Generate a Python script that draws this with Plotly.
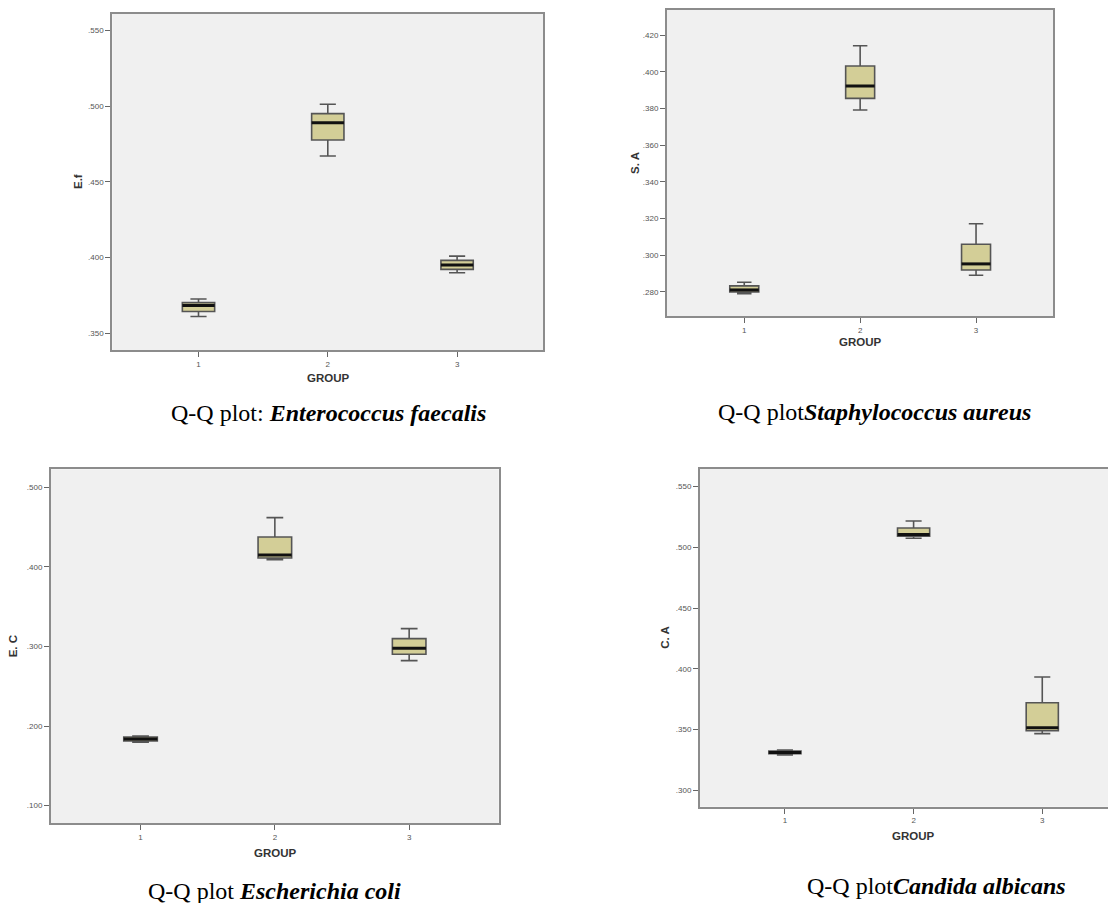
import plotly.graph_objects as go

# The page body has an 8px margin, so figure coordinates are page coordinates minus 8.
OFF = 8
W, H = 1116 - OFF, 903 - OFF

groups = [1, 2, 3]
group_labels = ["1", "2", "3"]

# Enterococcus faecalis (E.f)
ef_lower = [0.3610, 0.4671, 0.3899]
ef_q1 = [0.3643, 0.4777, 0.3921]
ef_median = [0.3683, 0.4891, 0.3950]
ef_q3 = [0.3701, 0.4951, 0.3981]
ef_upper = [0.3725, 0.5013, 0.4009]
ef_ticks = [0.35, 0.40, 0.45, 0.50, 0.55]
ef_ticktext = [".350", ".400", ".450", ".500", ".550"]

# Staphylococcus aureus (S. A)
sa_lower = [0.2791, 0.3792, 0.2891]
sa_q1 = [0.2800, 0.3855, 0.2920]
sa_median = [0.2811, 0.3923, 0.2953]
sa_q3 = [0.2833, 0.4032, 0.3060]
sa_upper = [0.2853, 0.4142, 0.3172]
sa_ticks = [0.28, 0.30, 0.32, 0.34, 0.36, 0.38, 0.40, 0.42]
sa_ticktext = [".280", ".300", ".320", ".340", ".360", ".380", ".400", ".420"]

# Escherichia coli (E. C)
ec_lower = [0.1796, 0.4091, 0.2822]
ec_q1 = [0.1813, 0.4112, 0.2902]
ec_median = [0.1838, 0.4150, 0.2977]
ec_q3 = [0.1863, 0.4376, 0.3098]
ec_upper = [0.1875, 0.4619, 0.3224]
ec_ticks = [0.1, 0.2, 0.3, 0.4, 0.5]
ec_ticktext = [".100", ".200", ".300", ".400", ".500"]

# Candida albicans (C. A)
ca_lower = [0.3291, 0.5075, 0.3467]
ca_q1 = [0.3302, 0.5091, 0.3491]
ca_median = [0.3313, 0.5105, 0.3516]
ca_q3 = [0.3324, 0.5160, 0.3722]
ca_upper = [0.3332, 0.5217, 0.3933]
ca_ticks = [0.30, 0.35, 0.40, 0.45, 0.50, 0.55]
ca_ticktext = [".300", ".350", ".400", ".450", ".500", ".550"]

y_titles = ["E.f", "S. A", "E. C", "C. A"]
captions = [
    "Q-Q plot: <b><i>Enterococcus faecalis</i></b>",
    "Q-Q plot<b><i>Staphylococcus aureus</i></b>",
    "Q-Q plot <b><i>Escherichia coli</i></b>",
    "Q-Q plot<b><i>Candida albicans</i></b>",
]

# positions below are page pixels (reference picture coordinates)
panels = [
    dict(stats=(ef_lower, ef_q1, ef_median, ef_q3, ef_upper), ticks=ef_ticks, ticktext=ef_ticktext,
         yrange=[0.3388, 0.561], xrange=[1/3, 11/3], px=(112.3, 543.3), py=(14, 350), right=True,
         ytitle_x=78, xtitle=(328, 378), cap=(328, 413)),
    dict(stats=(sa_lower, sa_q1, sa_median, sa_q3, sa_upper), ticks=sa_ticks, ticktext=sa_ticktext,
         yrange=[0.2669, 0.4337], xrange=[1/3, 11/3], px=(667, 1053.3), py=(10, 316), right=True,
         ytitle_x=635, xtitle=(860, 342), cap=(874, 412)),
    dict(stats=(ec_lower, ec_q1, ec_median, ec_q3, ec_upper), ticks=ec_ticks, ticktext=ec_ticktext,
         yrange=[0.0778, 0.5226], xrange=[1/3, 11/3], px=(51, 498.7), py=(469.3, 823.3), right=True,
         ytitle_x=13, xtitle=(275, 853), cap=(274, 891)),
    dict(stats=(ca_lower, ca_q1, ca_median, ca_q3, ca_upper), ticks=ca_ticks, ticktext=ca_ticktext,
         yrange=[0.2866, 0.5645], xrange=[0.34, 3.573], px=(700, 1116), py=(469, 806.7), right=False,
         ytitle_x=665, xtitle=(913, 836), cap=(936, 886)),
]

BOX_W = 0.25
FILL = "#D3CE97"
EDGE = "#555555"
BORDER = "#8c8c8c"
TICKFONT = dict(family="Liberation Sans, Arial", size=8, color="#555555")
TITLEFONT = dict(family="Liberation Sans, Arial", size=11.5, color="#333333")


def fx(px):
    return (px - OFF) / W


def fy(py):
    return 1 - (py - OFF) / H


fig = go.Figure()
layout = dict(
    width=W, height=H, margin=dict(l=0, r=0, t=0, b=0),
    paper_bgcolor="white", plot_bgcolor="#F0F0F0", showlegend=False,
)
annotations = []

for i, p in enumerate(panels):
    n = i + 1
    xa = "x" if n == 1 else f"x{n}"
    ya = "y" if n == 1 else f"y{n}"
    lower, q1, med, q3, upper = p["stats"]
    fig.add_trace(go.Box(
        x=groups, q1=q1, median=med, q3=q3, lowerfence=lower, upperfence=upper,
        width=BOX_W, whiskerwidth=0.5, fillcolor=FILL,
        line=dict(color=EDGE, width=1.6), boxpoints=False,
        xaxis=xa, yaxis=ya, hoverinfo="skip",
    ))
    # thick black median lines
    mx, my = [], []
    for g, m in zip(groups, med):
        mx += [g - BOX_W / 2, g + BOX_W / 2, None]
        my += [m, m, None]
    fig.add_trace(go.Scatter(x=mx, y=my, mode="lines", line=dict(color="#111111", width=3),
                             xaxis=xa, yaxis=ya, hoverinfo="skip"))

    x0, x1 = p["px"]
    y0, y1 = p["py"]
    xkey = "xaxis" if n == 1 else f"xaxis{n}"
    ykey = "yaxis" if n == 1 else f"yaxis{n}"
    layout[xkey] = dict(
        domain=[max(0, fx(x0)), min(1, fx(x1))], anchor=ya, range=p["xrange"],
        tickvals=groups, ticktext=group_labels, ticks="outside", ticklen=5,
        tickcolor="#666666", tickfont=TICKFONT, showgrid=False, zeroline=False,
        showline=True, linecolor=BORDER, linewidth=2, mirror=True,
    )
    layout[ykey] = dict(
        domain=[fy(y1), fy(y0)], anchor=xa, range=p["yrange"],
        tickvals=p["ticks"], ticktext=p["ticktext"], ticks="outside", ticklen=5,
        tickcolor="#666666", tickfont=TICKFONT, showgrid=False, zeroline=False,
        showline=True, linecolor=BORDER, linewidth=2, mirror=p["right"],
    )
    annotations.append(dict(
        text=f"<b>{y_titles[i]}</b>", xref="paper", yref="paper",
        x=fx(p["ytitle_x"]), y=fy((y0 + y1) / 2), textangle=-90,
        showarrow=False, font=TITLEFONT, xanchor="center", yanchor="middle",
    ))
    tx, ty = p["xtitle"]
    annotations.append(dict(
        text="<b>GROUP</b>", xref="paper", yref="paper", x=fx(tx), y=fy(ty),
        showarrow=False, font=TITLEFONT, xanchor="center", yanchor="middle",
    ))
    cx, cy = p["cap"]
    annotations.append(dict(
        text=captions[i], xref="paper", yref="paper", x=fx(cx), y=fy(cy),
        showarrow=False, font=dict(family="Liberation Serif, Times New Roman", size=24, color="black"),
        xanchor="center", yanchor="middle",
    ))

layout["annotations"] = annotations
fig.update_layout(**layout)
fig.write_html("out.html")
